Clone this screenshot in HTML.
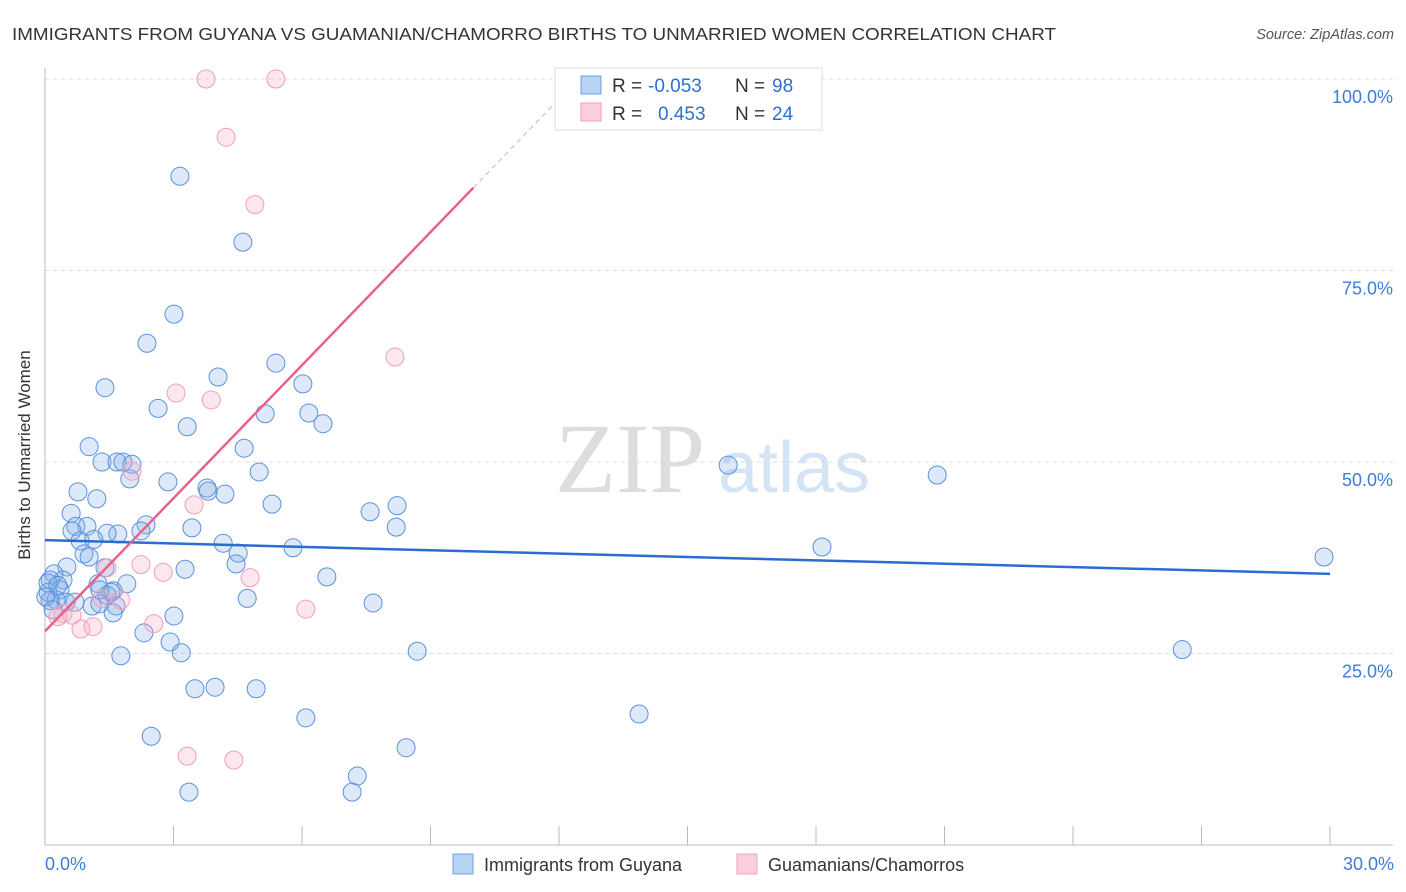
<!DOCTYPE html>
<html><head><meta charset="utf-8"><style>
body{margin:0;background:#fff;font-family:"Liberation Sans",sans-serif;}
svg{display:block}
</style></head><body>
<svg id="chart" width="1406" height="892">
<text x="12" y="40" font-size="17.5" fill="#333" textLength="1044" lengthAdjust="spacingAndGlyphs">IMMIGRANTS FROM GUYANA VS GUAMANIAN/CHAMORRO BIRTHS TO UNMARRIED WOMEN CORRELATION CHART</text>
<text x="1394" y="39" font-size="14.5" fill="#555" font-style="italic" text-anchor="end">Source: ZipAtlas.com</text>
<text x="555" y="492" font-size="100" fill="#ddd" font-family="Liberation Serif,serif">ZIP</text>
<text x="718" y="492" font-size="72" fill="#d5e4f5">atlas</text>
<g id="grid"></g><g id="axes"></g><g id="blue"></g><g id="pink"></g><g id="trends"></g>
<text x="30" y="455" font-size="17" fill="#333" text-anchor="middle" transform="rotate(-90 30 455)">Births to Unmarried Women</text>
<g>
<rect x="555" y="68" width="267" height="62" fill="#fff" stroke="#ddd"/>
<rect x="581" y="76" width="20" height="18" fill="#b9d3f3" stroke="#6f9fe0"/>
<rect x="581" y="103" width="20" height="18" fill="#fbcfdc" stroke="#eda3ba"/>
<text x="612" y="92" font-size="19" fill="#333">R =</text>
<text x="648" y="92" font-size="19" fill="#2f6fd0">-0.053</text>
<text x="735" y="92" font-size="19" fill="#333">N =</text>
<text x="772" y="92" font-size="19" fill="#2f6fd0">98</text>
<text x="612" y="120" font-size="19" fill="#333">R =</text>
<text x="658" y="120" font-size="19" fill="#2f6fd0">0.453</text>
<text x="735" y="120" font-size="19" fill="#333">N =</text>
<text x="772" y="120" font-size="19" fill="#2f6fd0">24</text>
</g>
<g>
<rect x="453" y="854" width="20" height="20" fill="#b9d3f3" stroke="#6f9fe0"/>
<text x="484" y="871" font-size="18" fill="#333">Immigrants from Guyana</text>
<rect x="737" y="854" width="20" height="20" fill="#fbcfdc" stroke="#eda3ba"/>
<text x="768" y="871" font-size="18" fill="#333">Guamanians/Chamorros</text>
</g>
</svg>
<script>
const xTicks=[0,3,6,9,12,15,18,21,24,27,30];
const yTicks=[25,50,75,100];
const blueX=[3.15,4.62,3.01,2.38,1.40,4.04,5.39,6.02,2.64,5.14,6.16,6.49,3.32,1.03,4.65,1.33,1.68,1.82,2.03,1.98,5.00,2.87,3.78,3.81,4.20,0.77,1.21,5.30,7.59,8.22,8.20,0.61,0.72,0.98,0.63,2.36,2.24,1.70,1.45,3.43,0.82,1.14,4.16,5.79,4.51,0.91,1.03,4.46,0.51,1.40,3.27,6.58,0.21,0.42,1.24,1.91,1.59,0.35,0.12,0.07,0.26,0.12,0.49,0.70,1.10,1.28,1.45,1.66,1.59,3.01,4.72,7.66,2.31,2.92,3.18,1.77,8.69,3.50,3.97,4.93,6.09,13.87,2.48,8.43,7.29,3.36,7.17,15.95,20.83,18.14,29.86,26.55,0.07,0.30,0.02,0.19,1.54,1.28];
const blueY=[87.3,78.7,69.3,65.5,59.7,61.1,62.9,60.2,57.0,56.3,56.4,55.0,54.6,52.0,51.8,50.0,50.0,50.0,49.7,47.8,48.7,47.4,46.6,46.2,45.8,46.1,45.2,44.5,43.5,44.3,41.5,43.3,41.6,41.6,41.0,41.8,41.0,40.6,40.7,41.4,39.7,39.9,39.4,38.8,38.1,38.0,37.6,36.7,36.3,36.2,36.0,35.0,35.4,34.6,34.1,34.1,33.2,33.3,34.6,33.0,32.0,31.9,31.7,31.7,31.2,31.5,32.6,31.2,30.3,29.9,32.2,31.6,27.7,26.5,25.1,24.7,25.3,20.4,20.6,20.4,16.6,17.1,14.2,12.7,9.0,6.9,6.9,49.6,48.3,38.9,37.6,25.5,34.2,33.9,32.4,30.7,33.0,33.3];
const pinkX=[3.76,5.39,4.23,4.90,8.17,3.06,3.88,2.03,3.48,2.24,2.76,4.79,1.45,6.09,1.77,1.33,0.42,0.63,0.84,1.12,2.54,3.32,4.41,0.30];
const pinkY=[100,100,92.4,83.6,63.7,59.0,58.1,48.8,44.4,36.6,35.6,34.9,36.2,30.8,32.0,32.2,30.2,30.0,28.2,28.5,28.9,11.6,11.1,29.8];
const blueTrend=[39.8,35.4];
const pinkTrend=[27.9,5.79];
const NS="http://www.w3.org/2000/svg";
const sx=v=>45+v*(1285/30);
const sy=v=>845-v*7.66;
function mk(tag,attrs,parent){const e=document.createElementNS(NS,tag);for(const k in attrs)e.setAttribute(k,attrs[k]);document.getElementById(parent).appendChild(e);return e;}
yTicks.forEach(t=>{
  const l=mk('line',{x1:45,x2:1393,y1:sy(t),y2:sy(t),stroke:'#ddd','stroke-dasharray':'4 4'},'grid');
  
  
  const tx=mk('text',{x:1393,y:sy(t)+24,'font-size':18,fill:'#3b7dd8','text-anchor':'end'},'grid');
  tx.textContent=t.toFixed(1)+'%';
  
  
});
let a=mk('line',{x1:45,x2:45,y1:68,y2:845,stroke:'#bbb'},'axes');


a=mk('line',{x1:45,x2:1393,y1:845,y2:845,stroke:'#bbb'},'axes');


xTicks.forEach(t=>{
  const l=mk('line',{x1:sx(t),x2:sx(t),y1:826,y2:845,stroke:'#bbb'},'axes');
  
  
});
[[0,'0.0%','start'],[30,'30.0%','end']].forEach(([v,s,anc])=>{
  const tx=mk('text',{x:anc==='end'?1394:sx(v),y:870,'font-size':18,fill:'#3b7dd8','text-anchor':anc},'axes');
  tx.textContent=s;
  
  
});
blueX.forEach((x,i)=>{
  const c=mk('circle',{cx:sx(x),cy:sy(blueY[i]),r:9,fill:'rgba(130,175,232,0.27)',stroke:'#5a92dc','stroke-width':1},'blue');
  
  
});
pinkX.forEach((x,i)=>{
  const c=mk('circle',{cx:sx(x),cy:sy(pinkY[i]),r:9,fill:'rgba(245,165,195,0.27)',stroke:'#eea0b8','stroke-width':1},'pink');
  
  
});
let t=mk('line',{x1:sx(0),y1:sy(blueTrend[0]),x2:sx(30),y2:sy(blueTrend[1]),stroke:'#2a6dd2','stroke-width':2.5},'trends');


const pe=10;
t=mk('line',{x1:sx(0),y1:sy(pinkTrend[0]),x2:sx(pe),y2:sy(pinkTrend[0]+pinkTrend[1]*pe),stroke:'#e8628c','stroke-width':2.5},'trends');


const xe=(100-pinkTrend[0])/pinkTrend[1]+0.3;
t=mk('line',{x1:sx(pe),y1:sy(pinkTrend[0]+pinkTrend[1]*pe),x2:sx(xe),y2:sy(pinkTrend[0]+pinkTrend[1]*xe),stroke:'#f0b0c4','stroke-width':1.2,'stroke-dasharray':'5 4'},'trends');


</script>
</body></html>
